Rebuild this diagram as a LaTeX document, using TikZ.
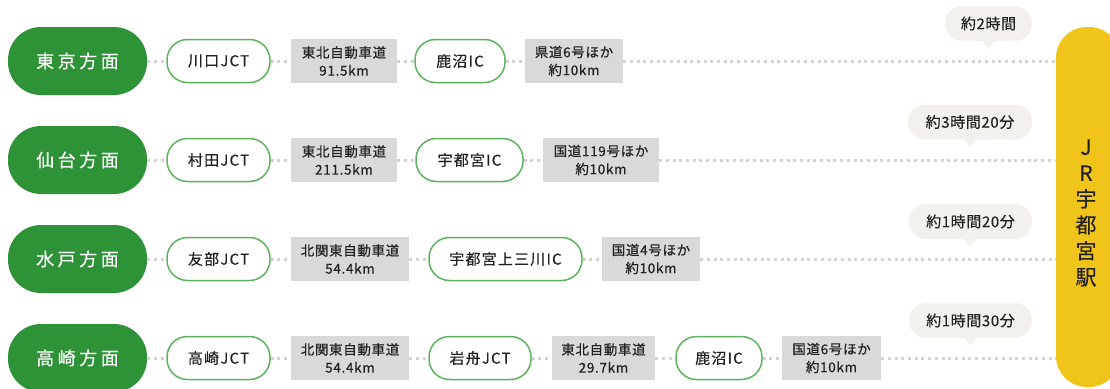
\documentclass[tikz,border=0pt]{standalone}
\usepackage{fontspec}
\setmainfont{Noto Sans CJK JP}
\newfontfamily\boxfont[FakeBold=0.5,LetterSpace=5]{Noto Sans CJK JP}
\newfontfamily\pillfont[FakeBold=0.3,LetterSpace=8]{Noto Sans CJK JP}
\newfontfamily\bubfont[FakeBold=0.3,LetterSpace=4]{Noto Sans CJK JP}
\newfontfamily\dirfont[FakeBold=0.4]{Noto Sans CJK JP}
\newfontfamily\jrfont[FakeBold=0.3]{Noto Sans CJK JP}
\definecolor{dgreen}{HTML}{2E9237}
\definecolor{lgreen}{HTML}{5DB35D}
\definecolor{ygold}{HTML}{F1C419}
\definecolor{gbox}{HTML}{D9D9D9}
\definecolor{bub}{HTML}{F2F1EB}
\definecolor{dotc}{HTML}{D3D3D3}
\definecolor{txt}{HTML}{222222}
\newcommand\gsp{\hspace{3.5pt}}
\begin{document}
\begin{tikzpicture}[x=1pt,y=-1pt,
 dirpill/.style={fill=dgreen, rounded corners=33pt, minimum width=139pt, minimum height=68pt, text=white, font=\dirfont\fontsize{18}{20}\selectfont, inner sep=0pt},
 jpill/.style={draw=lgreen, line width=1.5pt, fill=white, rounded corners=20.5pt, minimum height=43pt, minimum width=#1, inner sep=0pt, text=txt, font=\pillfont\fontsize{15}{17}\selectfont},
 roadbox/.style={fill=gbox, minimum height=44pt, minimum width=#1, inner sep=0pt, align=center, text=txt, font=\boxfont\fontsize{13.5}{18}\selectfont},
 bubble/.style={fill=bub, rounded corners=17pt, minimum height=35pt, minimum width=#1, inner sep=0pt, text=txt, font=\bubfont\fontsize{15}{17}\selectfont},
 dotline/.style={draw=dotc, line width=3pt, dash pattern=on 3pt off 3.7pt},
]
\useasboundingbox (0,0) rectangle (1110,388);
\clip (0,0) rectangle (1110,388);

% station
\node[fill=ygold, rounded corners=31pt, minimum width=64pt, minimum height=360pt, inner sep=0pt] (jr) at (1088,207) {};
\node[align=center, text=txt, font=\jrfont\fontsize{21}{26}\selectfont, inner sep=0pt] (jrt) at (1086,213) {J\\R\\宇\\都\\宮\\駅};

% row 1
\node[dirpill] (g0) at (77.5,61) {東\gsp 京\gsp 方\gsp 面};
\node[jpill=103pt] (j0) at (218.5,61) {川口JCT};
\node[roadbox=106pt] (b0) at (344,61) {東北自動車道\\91.5km};
\node[jpill=90pt] (i0) at (460,61) {鹿沼IC};
\node[roadbox=98pt] (c0) at (574,61) {県道6号ほか\\約10km};
\draw[dotline] (g0.east) -- (j0.west);
\draw[dotline] (j0.east) -- (b0.west);
\draw[dotline] (b0.east) -- (i0.west);
\draw[dotline] (i0.east) -- (c0.west);
\draw[dotline] (c0.east) -- (c0.east -| jr.west);
\node[bubble=87pt] (t0) at (988.5,23.5) {約2時間};
\fill[bub] ([xshift=-6pt,yshift=0.5pt]t0.south) -- ([yshift=-8pt]t0.south) -- ([xshift=6pt,yshift=0.5pt]t0.south) -- cycle;

% row 2
\node[dirpill] (g1) at (77.5,160) {仙\gsp 台\gsp 方\gsp 面};
\node[jpill=103pt] (j1) at (218.5,160) {村田JCT};
\node[roadbox=106pt] (b1) at (344,160) {東北自動車道\\211.5km};
\node[jpill=107pt] (i1) at (469.5,160) {宇都宮IC};
\node[roadbox=116pt] (c1) at (601,160) {国道119号ほか\\約10km};
\draw[dotline] (g1.east) -- (j1.west);
\draw[dotline] (j1.east) -- (b1.west);
\draw[dotline] (b1.east) -- (i1.west);
\draw[dotline] (i1.east) -- (c1.west);
\draw[dotline] (c1.east) -- (c1.east -| jr.west);
\node[bubble=124pt] (t1) at (970,122) {約3時間20分};
\fill[bub] ([xshift=-6pt,yshift=0.5pt]t1.south) -- ([yshift=-8pt]t1.south) -- ([xshift=6pt,yshift=0.5pt]t1.south) -- cycle;

% row 3
\node[dirpill] (g2) at (77.5,259) {水\gsp 戸\gsp 方\gsp 面};
\node[jpill=103pt] (j2) at (218.5,259) {友部JCT};
\node[roadbox=118pt] (b2) at (350,259) {北関東自動車道\\54.4km};
\node[jpill=153pt] (i2) at (505.5,259) {宇都宮上三川IC};
\node[roadbox=98pt] (c2) at (651,259) {国道4号ほか\\約10km};
\draw[dotline] (g2.east) -- (j2.west);
\draw[dotline] (j2.east) -- (b2.west);
\draw[dotline] (b2.east) -- (i2.west);
\draw[dotline] (i2.east) -- (c2.west);
\draw[dotline] (c2.east) -- (c2.east -| jr.west);
\node[bubble=123pt] (t2) at (970.5,221.5) {約1時間20分};
\fill[bub] ([xshift=-6pt,yshift=0.5pt]t2.south) -- ([yshift=-8pt]t2.south) -- ([xshift=6pt,yshift=0.5pt]t2.south) -- cycle;

% row 4
\node[dirpill] (g3) at (77.5,358) {高\gsp 崎\gsp 方\gsp 面};
\node[jpill=103pt] (j3) at (218.5,358) {高崎JCT};
\node[roadbox=118pt] (b3) at (350,358) {北関東自動車道\\54.4km};
\node[jpill=102pt] (k3) at (480,358) {岩舟JCT};
\node[roadbox=103pt] (d3) at (603.5,358) {東北自動車道\\29.7km};
\node[jpill=86pt] (i3) at (719,358) {鹿沼IC};
\node[roadbox=99pt] (c3) at (831.5,358) {国道6号ほか\\約10km};
\draw[dotline] (g3.east) -- (j3.west);
\draw[dotline] (j3.east) -- (b3.west);
\draw[dotline] (b3.east) -- (k3.west);
\draw[dotline] (k3.east) -- (d3.west);
\draw[dotline] (d3.east) -- (i3.west);
\draw[dotline] (i3.east) -- (c3.west);
\draw[dotline] (c3.east) -- (c3.east -| jr.west);
\node[bubble=123pt] (t3) at (970.5,320.5) {約1時間30分};
\fill[bub] ([xshift=-6pt,yshift=0.5pt]t3.south) -- ([yshift=-8pt]t3.south) -- ([xshift=6pt,yshift=0.5pt]t3.south) -- cycle;
\end{tikzpicture}
\end{document}
